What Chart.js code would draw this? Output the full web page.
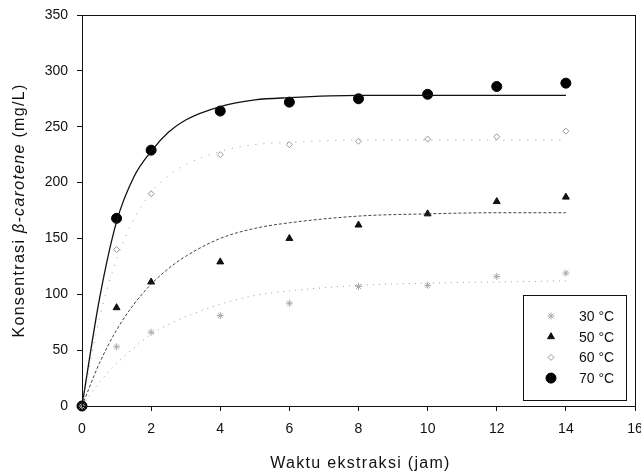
<!DOCTYPE html>
<html lang="id">
<head>
<meta charset="UTF-8">
<title>Konsentrasi beta-carotene vs waktu ekstraksi</title>
<script src="https://cdn.jsdelivr.net/npm/chart.js@4.4.1/dist/chart.umd.min.js"></script>
<style>
    body { margin: 0; background: #fff; overflow: hidden; }
    .wrap { position: relative; width: 641px; height: 475px; }
</style>
</head>
<body>
<div class="wrap"><canvas id="chart"></canvas></div>
<script>
// measured points (jam, mg/L)
const hours = [0, 1, 2, 4, 6, 8, 10, 12, 14];
const t30 = [0, 53, 66, 81, 92, 107, 108, 116, 119];
const t50 = [0, 88, 111, 129, 150, 162, 172, 183, 187];
const t60 = [0, 140, 190, 225, 234, 237, 239, 241, 246];
const t70 = [0, 168, 229, 264, 272, 275, 279, 286, 289];

// fitted curves
const fitHours = [0, 0.5, 1, 1.5, 2, 2.5, 3, 4, 5, 6, 8, 10, 12, 14];
const fit30 = [0, 21, 38, 52, 64, 73, 80, 91, 99, 103, 108, 110, 111, 112];
const fit50 = [0, 38, 68, 91, 109, 123, 134, 150, 159, 164, 170, 172, 173, 173];
const fit60 = [0, 78, 131, 167, 191, 206, 216, 228, 234, 236, 238, 238, 238, 238];
const fit70 = [0, 95, 165, 205, 228, 245, 256, 268, 274, 276, 278, 278, 278, 278];

const xTicks = [0, 2, 4, 6, 8, 10, 12, 14, 16];
const yTicks = [0, 50, 100, 150, 200, 250, 300, 350];
const labels = ['30 °C', '50 °C', '60 °C', '70 °C'];

const FONT = "'Liberation Sans', Arial, sans-serif";
const pts = (xs, ys) => xs.map((x, i) => ({ x: x, y: ys[i] }));

function curve(data, color, dash, width) {
    return {
        type: 'line', data: pts(fitHours, data), showLine: true, pointRadius: 0,
        borderColor: color, borderWidth: width, borderDash: dash,
        cubicInterpolationMode: 'monotone', fill: false, clip: false, isFit: true
    };
}
function marks(label, data, style, radius, fill, border) {
    return {
        label: label, data: pts(hours, data), showLine: false, pointStyle: style,
        pointRadius: radius, pointBackgroundColor: fill, pointBorderColor: border,
        pointBorderWidth: 1, clip: false
    };
}

const datasets = [
    curve(fit30, '#9a9a9a', [1, 5], 1),
    curve(fit50, '#444', [3, 2], 1),
    curve(fit60, '#9a9a9a', [1, 7], 1),
    curve(fit70, '#111', [], 1.3),
    marks(labels[0], t30, 'star', 3.5, '#bbb', '#aaa'),
    marks(labels[1], t50, 'triangle', 4, '#111', '#111'),
    marks(labels[2], t60, 'rectRot', 3, 'rgba(0,0,0,0)', '#999'),
    marks(labels[3], t70, 'circle', 5, '#000', '#000')
];

// frame, inner legend and axis titles
const decor = {
    id: 'decor',
    afterDraw(chart) {
        const ctx = chart.ctx, a = chart.chartArea;
        ctx.save();
        ctx.strokeStyle = '#111';
        ctx.lineWidth = 1;
        ctx.strokeRect(a.left + 0.5, a.top + 0.5, a.right - a.left, a.bottom - a.top);

        // legend box
        const bx = a.right - 112, by = a.bottom - 111, bw = 103, bh = 105;
        ctx.strokeRect(bx + 0.5, by + 0.5, bw, bh);
        ctx.font = '14px ' + FONT;
        ctx.textBaseline = 'middle';
        ctx.textAlign = 'left';
        const series = chart.data.datasets.filter(d => !d.isFit);
        series.forEach((d, i) => {
            const y = by + 21 + i * 20.7;
            ctx.fillStyle = d.pointBackgroundColor;
            ctx.strokeStyle = d.pointBorderColor;
            Chart.helpers.drawPoint(ctx, { pointStyle: d.pointStyle, radius: d.pointRadius, rotation: 0, borderWidth: 1 }, bx + 28, y);
            ctx.fillStyle = '#111';
            ctx.fillText(d.label, bx + 56, y + 1);
        });

        // titles
        ctx.fillStyle = '#111';
        ctx.font = '16px ' + FONT;
        ctx.letterSpacing = '1.3px';
        ctx.textBaseline = 'alphabetic';
        ctx.textAlign = 'center';
        ctx.fillText('Waktu ekstraksi (jam)', (a.left + a.right) / 2 + 2, 468);

        const parts = [
            ['Konsentrasi ', '16px ' + FONT],
            ['β-carotene', 'italic 16px ' + FONT],
            [' (mg/L)', '16px ' + FONT]
        ];
        let total = 0;
        parts.forEach(p => { ctx.font = p[1]; total += ctx.measureText(p[0]).width; });
        ctx.translate(24, (a.top + a.bottom) / 2);
        ctx.rotate(-Math.PI / 2);
        ctx.textAlign = 'left';
        let x = -total / 2;
        parts.forEach(p => { ctx.font = p[1]; ctx.fillText(p[0], x, 0); x += ctx.measureText(p[0]).width; });
        ctx.restore();
    }
};

new Chart(document.getElementById('chart'), {
    type: 'scatter',
    data: { datasets: datasets },
    options: {
        responsive: true,
        maintainAspectRatio: false,
        animation: false,
        layout: { padding: { left: 0, top: 15, right: 5, bottom: 0 } },
        plugins: { legend: { display: false }, tooltip: { enabled: false } },
        scales: {
            x: {
                type: 'linear', min: 0, max: 16,
                afterBuildTicks: s => { s.ticks = xTicks.map(v => ({ value: v })); },
                afterFit: s => { s.height = 69; s.paddingLeft = 0; s.paddingRight = 0; },
                ticks: { color: '#111', font: { family: FONT, size: 14 }, padding: 10, maxRotation: 0 },
                grid: { drawOnChartArea: false, drawTicks: true, tickLength: 5, color: '#111' },
                border: { display: true, color: '#111', width: 1 }
            },
            y: {
                type: 'linear', min: 0, max: 350,
                afterBuildTicks: s => { s.ticks = yTicks.map(v => ({ value: v })); },
                afterFit: s => { s.width = 82; s.paddingTop = 0; s.paddingBottom = 0; },
                ticks: { color: '#111', font: { family: FONT, size: 14 }, padding: 9 },
                grid: { drawOnChartArea: false, drawTicks: true, tickLength: 5, color: '#111' },
                border: { display: true, color: '#111', width: 1 }
            }
        }
    },
    plugins: [decor]
});
</script>
</body>
</html>
